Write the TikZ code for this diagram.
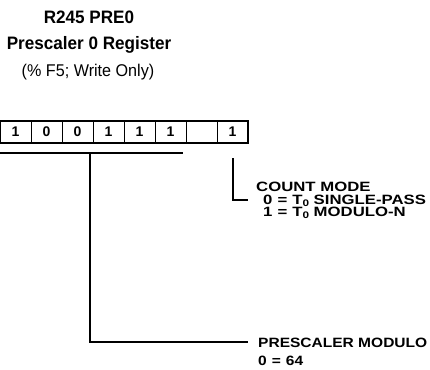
\documentclass[tikz,border=0pt]{standalone}
\usepackage{fontspec}
\setmainfont{Liberation Sans}
\newfontfamily\lblfont[FakeStretch=1.15]{Liberation Sans}
\newfontfamily\lblfontw[FakeStretch=1.24]{Liberation Sans}
\newfontfamily\ttlfont[FakeStretch=0.95]{Liberation Sans}
\newcommand{\sub}[1]{\raisebox{-0.35ex}{\fontsize{9.5}{9.5}\selectfont #1}}
\newcommand{\eqsp}{\hspace{5pt}=\hspace{5pt}}
\begin{document}
\begin{tikzpicture}[x=1pt,y=-1pt,
  cell/.style={draw,line width=0.9pt,minimum width=31pt,minimum height=22pt,inner sep=0pt,
    font=\fontsize{14}{14}\selectfont\bfseries},
  ttl/.style={inner sep=0pt,font=\ttlfont\fontsize{18}{18}\selectfont\bfseries},
  lbl/.style={inner sep=0pt,anchor=base west,font=\lblfont\fontsize{13.5}{13.5}\selectfont\bfseries},
  lblw/.style={lbl,font=\lblfontw\fontsize{13.5}{13.5}\selectfont\bfseries},
  wire/.style={line width=1.3pt}]
\useasboundingbox (0,0) rectangle (430,369);
\node[ttl] (t1) at (89,17) {R245 PRE0};
\node[ttl] (t2) at (89,45) {Prescaler 0 Register};
\node[ttl,font=\ttlfont\fontsize{17}{17}\selectfont] (t3) at (88,72) {(\% F5; Write Only)};
\node[cell] (b7) at (15.5,132) {1};
\node[cell] (b6) at (46.5,132) {0};
\node[cell] (b5) at (77.5,132) {0};
\node[cell] (b4) at (108.5,132) {1};
\node[cell] (b3) at (139.5,132) {1};
\node[cell] (b2) at (170.5,132) {1};
\node[cell] (b1) at (201.5,132) {};
\node[cell] (b0) at (232.5,132) {1};
\draw[line width=2pt] (b7.north west) rectangle (b0.south east);
% prescaler field
\coordinate (u1) at (0,153);
\coordinate (u2) at (183,153);
\coordinate (um) at (90,153);
\coordinate (pc) at (90,342);
\draw[wire] (u1) -- (u2);
\node[lbl] (pm) at (258,347) {PRESCALER MODULO};
\node[lbl] (pm0) at (258,365) {0\eqsp 64};
\draw[wire] (um) -- (pc) -- ([xshift=-10pt]pm.west |- pc);
% count mode
\coordinate (c1) at (233,158);
\coordinate (c2) at (233,200);
\node[lblw] (cm) at (256,191) {COUNT MODE};
\node[lblw] (cm0) at (263,204) {0\eqsp T\sub{0} SINGLE-PASS};
\node[lblw] (cm1) at (263,216) {1\eqsp T\sub{0} MODULO-N};
\draw[wire] (c1) -- (c2) -- ([xshift=-15pt]cm0.west |- c2);
\end{tikzpicture}
\end{document}
